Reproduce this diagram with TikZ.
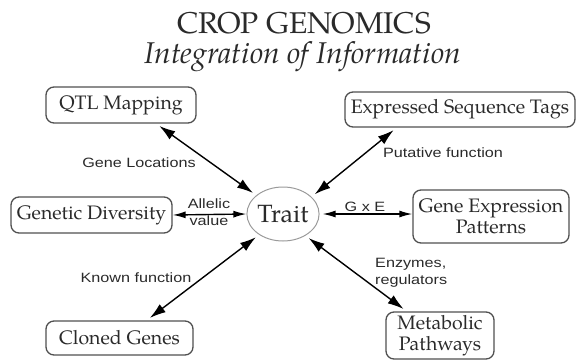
\documentclass[tikz,border=0pt]{standalone}
\usepackage{fontspec}
\newfontfamily\lab[FakeStretch=1.2]{Liberation Sans}
\newfontfamily\pal{TeX Gyre Pagella}
\usetikzlibrary{arrows.meta,shapes.geometric}
\definecolor{boxgray}{HTML}{505050}
\definecolor{txtgray}{HTML}{2A2A2A}
\definecolor{ellgray}{HTML}{9A9A9A}
\begin{document}
\begin{tikzpicture}[x=1pt,y=-1pt,
  box/.style={draw=boxgray, line width=1.3pt, rounded corners=8pt, inner sep=0pt,
    font=\pal\fontsize{19.5}{20.5}\selectfont, text=txtgray, align=center},
  arr/.style={draw=black, line width=1.4pt, {Latex[length=16pt,width=10pt]}-{Latex[length=16pt,width=10pt]}},
  arrh/.style={draw=black, line width=1.4pt, {Latex[length=13pt,width=7pt]}-{Latex[length=13pt,width=7pt]}},
  gap/.style={shorten <=4pt, shorten >=4pt},
  lbl/.style={font=\lab\fontsize{13.5}{17}\selectfont, text=txtgray, inner sep=0pt, align=center},
  ttl/.style={font=\pal\fontsize{30}{32}\selectfont, text=txtgray, inner sep=0pt, anchor=base}]
\useasboundingbox (0,0) rectangle (579,360);
% title
\node[ttl] (t1) at (304,33) {CROP GENOMICS};
\node[ttl, font=\pal\itshape\fontsize{30}{32}\selectfont] (t2) at (303,63.5) {Integration of Information};
% nodes
\node[box, minimum width=150pt, minimum height=36pt] (qtl) at (121,105) {QTL Mapping};
\node[box, minimum width=230pt, minimum height=35pt] (est) at (460,109.5) {Expressed Sequence Tags};
\node[box, minimum width=161pt, minimum height=36pt] (gd) at (91.5,215) {Genetic Diversity};
\node[ellipse, draw=ellgray, line width=1pt, minimum width=70pt, minimum height=54pt, inner sep=0pt,
  font=\pal\fontsize{25}{27}\selectfont, text=txtgray] (trait) at (283,214) {Trait};
\node[box, minimum width=156pt, minimum height=53pt] (gep) at (491,216.5) {Gene Expression\\Patterns};
\node[box, minimum width=147pt, minimum height=34pt] (cg) at (119.5,338) {Cloned Genes};
\node[box, minimum width=108pt, minimum height=47pt] (mp) at (440,335.5) {Metabolic\\Pathways};
% connectors
\draw[arr,gap] (qtl.-28) -- (trait.145);
\draw[arr,gap] (est.-164) -- (trait.31);
\draw[arrh] (gd.east) -- (trait.west);
\draw[arrh, shorten <=3pt] (trait.east) -- (gep.west |- trait.east);
\draw[arr,gap] (cg.33) -- (trait.-139);
\draw[arr,gap] (mp.144) -- (trait.-44);
% labels
\node[lbl] (l1) at (139,163) {Gene Locations};
\node[lbl] (l2) at (443,153) {Putative function};
\node[lbl] (l3) at (209,212) {Allelic\\value};
\node[lbl] (l4) at (365,207) {G x E};
\node[lbl, align=left, anchor=west] (l5) at (375,273) {Enzymes,\\regulators};
\node[lbl] (l6) at (136,278) {Known function};
\end{tikzpicture}
\end{document}
